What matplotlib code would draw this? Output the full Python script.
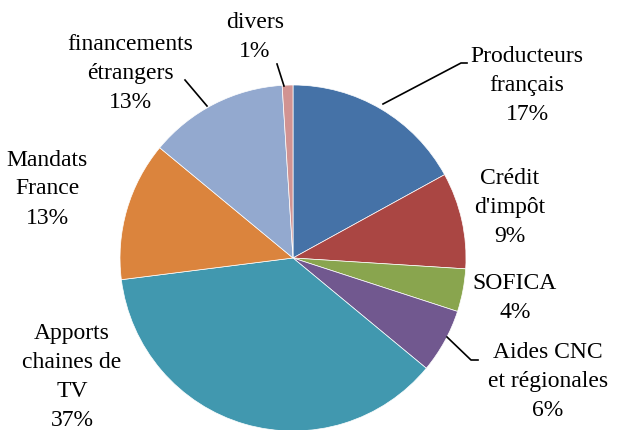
import matplotlib.pyplot as plt

labels = ["Producteurs\nfrançais", "Crédit\nd'impôt", "SOFICA", "Aides CNC\net régionales",
          "Apports\nchaines de\nTV", "Mandats\nFrance", "financements\nétrangers", "divers"]
values = [17, 9, 4, 6, 37, 13, 13, 1]
colors = ["#4572A7", "#AA4643", "#89A54E", "#71588F", "#4198AF", "#DB843D", "#93A9CF", "#D19392"]

# label centres in pixel coords (from top)
label_pos = [(527, 85), (510, 208), (515, 298), (548, 381), (72, 377), (47, 189), (130, 74), (255, 37)]

plt.rcParams['font.family'] = ['Liberation Serif', 'DejaVu Serif']

fig = plt.figure(figsize=(6.17, 4.30), dpi=100)
ax = fig.add_axes([0, 0, 1, 1])

H = 430
ax.pie(values, colors=colors, startangle=90, counterclock=False,
       center=(293, H - 258), radius=173,
       wedgeprops=dict(edgecolor='white', linewidth=0.5))

ax.set_xlim(0, 617)
ax.set_ylim(0, 430)
ax.set_aspect('equal')
ax.axis('off')

for lab, v, (x, y) in zip(labels, values, label_pos):
    ax.text(x, H - y, f"{lab}\n{v}%", ha='center', va='center',
            fontsize=17, linespacing=1.5, color='black')

# leader lines
leaders = [
    [(383, 104), (461, 63), (467, 63)],
    [(447, 337), (471, 360), (478, 360)],
    [(185, 80), (207, 106)],
    [(277, 64), (284, 86)],
]
for pts in leaders:
    ax.plot([p[0] for p in pts], [H - p[1] for p in pts], color='black', lw=1.2)

fig.savefig("out.png", dpi=100)
